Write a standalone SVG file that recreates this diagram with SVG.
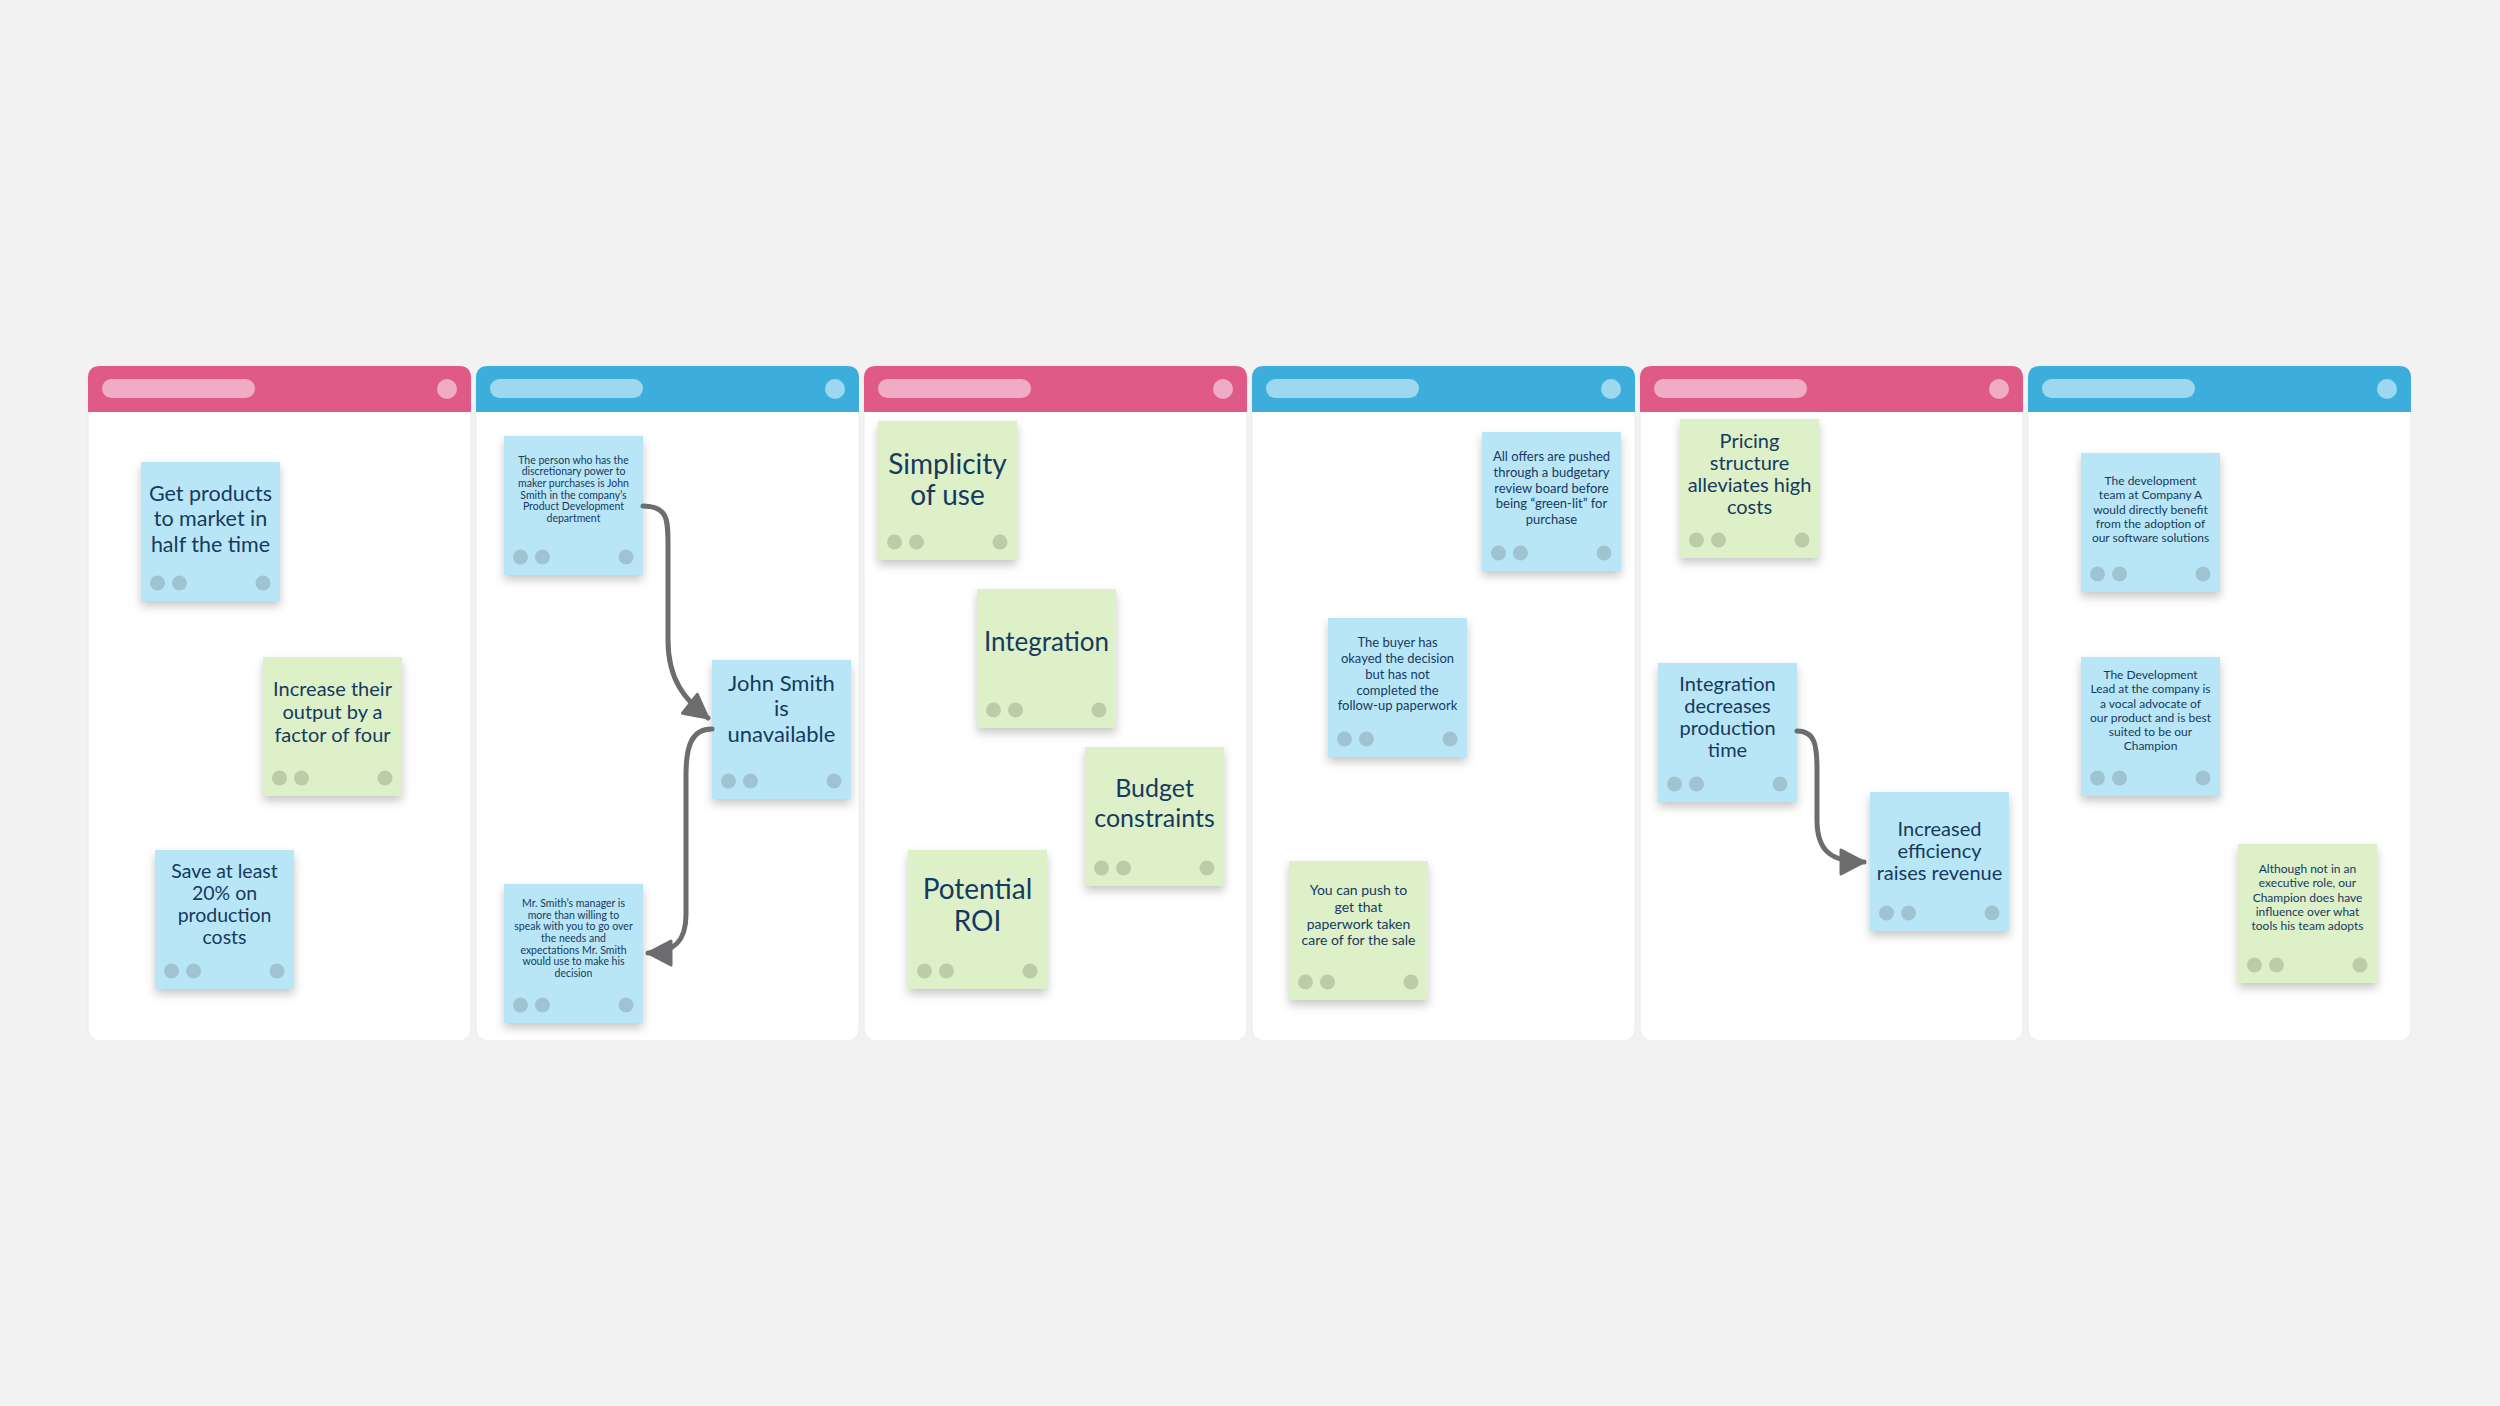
<svg xmlns="http://www.w3.org/2000/svg" width="2500" height="1406" viewBox="0 0 2500 1406">
<defs>
<style>
.bg{fill:#f2f2f2}
.body{fill:#ffffff;stroke:#ebebeb;stroke-width:1}
.hp{fill:#e05a88}.hb{fill:#3daedb}
.pp{fill:#f0abc5}.pb{fill:#9dd8ee}
.nb{fill:#b9e6f6}.ng{fill:#ddf0c8}
.db{fill:#a0c3d1}.dg{fill:#bdcca8}
.t{font-family:Lato,"Noto Sans","Liberation Sans",sans-serif;fill:#163a5f;text-anchor:middle}
.conn{fill:none;stroke:#6d6d6f;stroke-width:5;stroke-linecap:round}
</style>
<filter id="sh" x="-20%" y="-20%" width="140%" height="150%">
<feDropShadow dx="0" dy="5" stdDeviation="5" flood-color="#000" flood-opacity="0.22"/>
</filter>
<marker id="ah" markerUnits="userSpaceOnUse" markerWidth="34" markerHeight="34" viewBox="-28 -17 34 34" refX="0" refY="0" orient="auto">
<path d="M0,0 L-23,-12 L-23,12 Z" fill="#6d6d6f" stroke="#6d6d6f" stroke-width="3" stroke-linejoin="round"/>
</marker>
</defs>
<rect class="bg" x="0" y="0" width="2500" height="1406"/>

<g id="col1">
<rect class="body" x="88" y="366" width="383" height="675" rx="12"/>
<path class="hp" d="M88,412 V378 Q88,366 100,366 H459 Q471,366 471,378 V412 Z"/>
<rect class="pp" x="102" y="379" width="153" height="19" rx="9.5"/>
<circle class="pp" cx="447" cy="389" r="10"/>
</g>
<g id="col2">
<rect class="body" x="476" y="366" width="383" height="675" rx="12"/>
<path class="hb" d="M476,412 V378 Q476,366 488,366 H847 Q859,366 859,378 V412 Z"/>
<rect class="pb" x="490" y="379" width="153" height="19" rx="9.5"/>
<circle class="pb" cx="835" cy="389" r="10"/>
</g>
<g id="col3">
<rect class="body" x="864" y="366" width="383" height="675" rx="12"/>
<path class="hp" d="M864,412 V378 Q864,366 876,366 H1235 Q1247,366 1247,378 V412 Z"/>
<rect class="pp" x="878" y="379" width="153" height="19" rx="9.5"/>
<circle class="pp" cx="1223" cy="389" r="10"/>
</g>
<g id="col4">
<rect class="body" x="1252" y="366" width="383" height="675" rx="12"/>
<path class="hb" d="M1252,412 V378 Q1252,366 1264,366 H1623 Q1635,366 1635,378 V412 Z"/>
<rect class="pb" x="1266" y="379" width="153" height="19" rx="9.5"/>
<circle class="pb" cx="1611" cy="389" r="10"/>
</g>
<g id="col5">
<rect class="body" x="1640" y="366" width="383" height="675" rx="12"/>
<path class="hp" d="M1640,412 V378 Q1640,366 1652,366 H2011 Q2023,366 2023,378 V412 Z"/>
<rect class="pp" x="1654" y="379" width="153" height="19" rx="9.5"/>
<circle class="pp" cx="1999" cy="389" r="10"/>
</g>
<g id="col6">
<rect class="body" x="2028" y="366" width="383" height="675" rx="12"/>
<path class="hb" d="M2028,412 V378 Q2028,366 2040,366 H2399 Q2411,366 2411,378 V412 Z"/>
<rect class="pb" x="2042" y="379" width="153" height="19" rx="9.5"/>
<circle class="pb" cx="2387" cy="389" r="10"/>
</g>

<g id="n1">
<rect class="nb" x="141" y="462" width="139" height="139" filter="url(#sh)"/>
<text class="t" font-size="21.5"><tspan x="210.5" y="500.5">Get products</tspan><tspan x="210.5" y="526">to market in</tspan><tspan x="210.5" y="551.5">half the time</tspan></text>
<circle class="db" cx="157.5" cy="583" r="7.5"/><circle class="db" cx="179.5" cy="583" r="7.5"/><circle class="db" cx="263" cy="583" r="7.5"/>
</g>
<g id="n2">
<rect class="ng" x="263" y="657" width="139" height="139" filter="url(#sh)"/>
<text class="t" font-size="20"><tspan x="332.5" y="695.5">Increase their</tspan><tspan x="332.5" y="719">output by a</tspan><tspan x="332.5" y="742">factor of four</tspan></text>
<circle class="dg" cx="279.5" cy="778" r="7.5"/><circle class="dg" cx="301.5" cy="778" r="7.5"/><circle class="dg" cx="385" cy="778" r="7.5"/>
</g>
<g id="n3">
<rect class="nb" x="155" y="850" width="139" height="139" filter="url(#sh)"/>
<text class="t" font-size="19.5"><tspan x="224.5" y="877.5">Save at least</tspan><tspan x="224.5" y="900">20% on</tspan><tspan x="224.5" y="922">production</tspan><tspan x="224.5" y="944">costs</tspan></text>
<circle class="db" cx="171.5" cy="971" r="7.5"/><circle class="db" cx="193.5" cy="971" r="7.5"/><circle class="db" cx="277" cy="971" r="7.5"/>
</g>
<g id="n4">
<rect class="nb" x="504" y="436" width="139" height="139" filter="url(#sh)"/>
<text class="t" font-size="10.5"><tspan x="573.5" y="463.5">The person who has the</tspan><tspan x="573.5" y="475">discretionary power to</tspan><tspan x="573.5" y="487">maker purchases is John</tspan><tspan x="573.5" y="498.5">Smith in the company’s</tspan><tspan x="573.5" y="510">Product Development</tspan><tspan x="573.5" y="522">department</tspan></text>
<circle class="db" cx="520.5" cy="557" r="7.5"/><circle class="db" cx="542.5" cy="557" r="7.5"/><circle class="db" cx="626" cy="557" r="7.5"/>
</g>
<g id="n5">
<rect class="nb" x="712" y="660" width="139" height="139" filter="url(#sh)"/>
<text class="t" font-size="22"><tspan x="781.5" y="690.5">John Smith</tspan><tspan x="781.5" y="716">is</tspan><tspan x="781.5" y="742">unavailable</tspan></text>
<circle class="db" cx="728.5" cy="781" r="7.5"/><circle class="db" cx="750.5" cy="781" r="7.5"/><circle class="db" cx="834" cy="781" r="7.5"/>
</g>
<g id="n6">
<rect class="nb" x="504" y="884" width="139" height="139" filter="url(#sh)"/>
<text class="t" font-size="10.5"><tspan x="573.5" y="907">Mr. Smith’s manager is</tspan><tspan x="573.5" y="918.5">more than willing to</tspan><tspan x="573.5" y="930">speak with you to go over</tspan><tspan x="573.5" y="942">the needs and</tspan><tspan x="573.5" y="953.5">expectations Mr. Smith</tspan><tspan x="573.5" y="965">would use to make his</tspan><tspan x="573.5" y="977">decision</tspan></text>
<circle class="db" cx="520.5" cy="1005" r="7.5"/><circle class="db" cx="542.5" cy="1005" r="7.5"/><circle class="db" cx="626" cy="1005" r="7.5"/>
</g>
<g id="n7">
<rect class="ng" x="878" y="421" width="139" height="139" filter="url(#sh)"/>
<text class="t" font-size="28"><tspan x="947.5" y="473.5">Simplicity</tspan><tspan x="947.5" y="505">of use</tspan></text>
<circle class="dg" cx="894.5" cy="542" r="7.5"/><circle class="dg" cx="916.5" cy="542" r="7.5"/><circle class="dg" cx="1000" cy="542" r="7.5"/>
</g>
<g id="n8">
<rect class="ng" x="977" y="589" width="139" height="139" filter="url(#sh)"/>
<text class="t" font-size="26"><tspan x="1046.5" y="651">Integration</tspan></text>
<circle class="dg" cx="993.5" cy="710" r="7.5"/><circle class="dg" cx="1015.5" cy="710" r="7.5"/><circle class="dg" cx="1099" cy="710" r="7.5"/>
</g>
<g id="n9">
<rect class="ng" x="1085" y="747" width="139" height="139" filter="url(#sh)"/>
<text class="t" font-size="25"><tspan x="1154.5" y="796.5">Budget</tspan><tspan x="1154.5" y="826.5">constraints</tspan></text>
<circle class="dg" cx="1101.5" cy="868" r="7.5"/><circle class="dg" cx="1123.5" cy="868" r="7.5"/><circle class="dg" cx="1207" cy="868" r="7.5"/>
</g>
<g id="n10">
<rect class="ng" x="908" y="850" width="139" height="139" filter="url(#sh)"/>
<text class="t" font-size="28"><tspan x="977.5" y="899">Potential</tspan><tspan x="977.5" y="931">ROI</tspan></text>
<circle class="dg" cx="924.5" cy="971" r="7.5"/><circle class="dg" cx="946.5" cy="971" r="7.5"/><circle class="dg" cx="1030" cy="971" r="7.5"/>
</g>
<g id="n11">
<rect class="nb" x="1482" y="432" width="139" height="139" filter="url(#sh)"/>
<text class="t" font-size="13"><tspan x="1551.5" y="461">All offers are pushed</tspan><tspan x="1551.5" y="477">through a budgetary</tspan><tspan x="1551.5" y="492.5">review board before</tspan><tspan x="1551.5" y="508">being “green-lit” for</tspan><tspan x="1551.5" y="524">purchase</tspan></text>
<circle class="db" cx="1498.5" cy="553" r="7.5"/><circle class="db" cx="1520.5" cy="553" r="7.5"/><circle class="db" cx="1604" cy="553" r="7.5"/>
</g>
<g id="n12">
<rect class="nb" x="1328" y="618" width="139" height="139" filter="url(#sh)"/>
<text class="t" font-size="13"><tspan x="1397.5" y="647">The buyer has</tspan><tspan x="1397.5" y="663">okayed the decision</tspan><tspan x="1397.5" y="679">but has not</tspan><tspan x="1397.5" y="694.5">completed the</tspan><tspan x="1397.5" y="710">follow-up paperwork</tspan></text>
<circle class="db" cx="1344.5" cy="739" r="7.5"/><circle class="db" cx="1366.5" cy="739" r="7.5"/><circle class="db" cx="1450" cy="739" r="7.5"/>
</g>
<g id="n13">
<rect class="ng" x="1289" y="861" width="139" height="139" filter="url(#sh)"/>
<text class="t" font-size="14"><tspan x="1358.5" y="895">You can push to</tspan><tspan x="1358.5" y="912">get that</tspan><tspan x="1358.5" y="928.5">paperwork taken</tspan><tspan x="1358.5" y="945">care of for the sale</tspan></text>
<circle class="dg" cx="1305.5" cy="982" r="7.5"/><circle class="dg" cx="1327.5" cy="982" r="7.5"/><circle class="dg" cx="1411" cy="982" r="7.5"/>
</g>
<g id="n14">
<rect class="ng" x="1680" y="419" width="139" height="139" filter="url(#sh)"/>
<text class="t" font-size="20"><tspan x="1749.5" y="447.5">Pricing</tspan><tspan x="1749.5" y="469.5">structure</tspan><tspan x="1749.5" y="491.5">alleviates high</tspan><tspan x="1749.5" y="513.5">costs</tspan></text>
<circle class="dg" cx="1696.5" cy="540" r="7.5"/><circle class="dg" cx="1718.5" cy="540" r="7.5"/><circle class="dg" cx="1802" cy="540" r="7.5"/>
</g>
<g id="n15">
<rect class="nb" x="1658" y="663" width="139" height="139" filter="url(#sh)"/>
<text class="t" font-size="20"><tspan x="1727.5" y="691">Integration</tspan><tspan x="1727.5" y="713">decreases</tspan><tspan x="1727.5" y="735">production</tspan><tspan x="1727.5" y="757">time</tspan></text>
<circle class="db" cx="1674.5" cy="784" r="7.5"/><circle class="db" cx="1696.5" cy="784" r="7.5"/><circle class="db" cx="1780" cy="784" r="7.5"/>
</g>
<g id="n16">
<rect class="nb" x="1870" y="792" width="139" height="139" filter="url(#sh)"/>
<text class="t" font-size="20"><tspan x="1939.5" y="835.5">Increased</tspan><tspan x="1939.5" y="857.5">efficiency</tspan><tspan x="1939.5" y="880">raises revenue</tspan></text>
<circle class="db" cx="1886.5" cy="913" r="7.5"/><circle class="db" cx="1908.5" cy="913" r="7.5"/><circle class="db" cx="1992" cy="913" r="7.5"/>
</g>
<g id="n17">
<rect class="nb" x="2081" y="453" width="139" height="139" filter="url(#sh)"/>
<text class="t" font-size="12"><tspan x="2150.5" y="484.5">The development</tspan><tspan x="2150.5" y="499">team at Company A</tspan><tspan x="2150.5" y="513.5">would directly benefit</tspan><tspan x="2150.5" y="527.5">from the adoption of</tspan><tspan x="2150.5" y="542">our software solutions</tspan></text>
<circle class="db" cx="2097.5" cy="574" r="7.5"/><circle class="db" cx="2119.5" cy="574" r="7.5"/><circle class="db" cx="2203" cy="574" r="7.5"/>
</g>
<g id="n18">
<rect class="nb" x="2081" y="657" width="139" height="139" filter="url(#sh)"/>
<text class="t" font-size="12"><tspan x="2150.5" y="678.5">The Development</tspan><tspan x="2150.5" y="693">Lead at the company is</tspan><tspan x="2150.5" y="707.5">a vocal advocate of</tspan><tspan x="2150.5" y="721.5">our product and is best</tspan><tspan x="2150.5" y="736">suited to be our</tspan><tspan x="2150.5" y="750">Champion</tspan></text>
<circle class="db" cx="2097.5" cy="778" r="7.5"/><circle class="db" cx="2119.5" cy="778" r="7.5"/><circle class="db" cx="2203" cy="778" r="7.5"/>
</g>
<g id="n19">
<rect class="ng" x="2238" y="844" width="139" height="139" filter="url(#sh)"/>
<text class="t" font-size="12"><tspan x="2307.5" y="873">Although not in an</tspan><tspan x="2307.5" y="887">executive role, our</tspan><tspan x="2307.5" y="901.5">Champion does have</tspan><tspan x="2307.5" y="915.5">influence over what</tspan><tspan x="2307.5" y="930">tools his team adopts</tspan></text>
<circle class="dg" cx="2254.5" cy="965" r="7.5"/><circle class="dg" cx="2276.5" cy="965" r="7.5"/><circle class="dg" cx="2360" cy="965" r="7.5"/>
</g>

<g id="connectors">
<path class="conn" d="M643,506 C668,506 668,520 668,545 L668,640 C668,680 685,700 708,718" marker-end="url(#ah)"/>
<path class="conn" d="M712,729 C692,729 686,745 686,775 L686,915 C686,940 675,953 648,953" marker-end="url(#ah)"/>
<path class="conn" d="M1797,731 C1815,731 1817,745 1817,770 L1817,820 C1817,850 1830,862 1864,862" marker-end="url(#ah)"/>
</g>
</svg>
